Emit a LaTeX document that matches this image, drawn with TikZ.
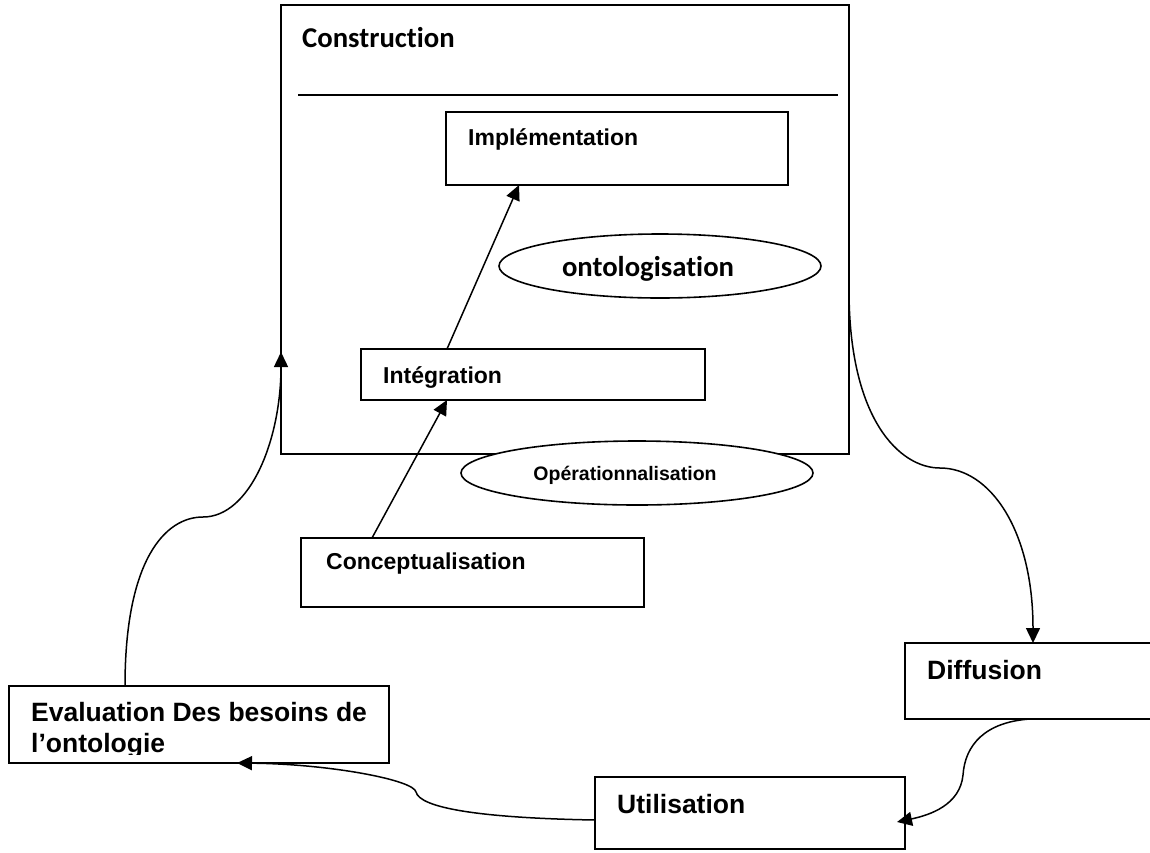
\documentclass[tikz,border=0pt]{standalone}
\usepackage{fontspec}
\setmainfont{Liberation Sans}
\newfontfamily\calib[Ligatures={NoCommon,NoDiscretionary,NoRare}]{Carlito}
\usetikzlibrary{arrows.meta,shapes.geometric,calc}
\begin{document}
\begin{tikzpicture}[x=1pt,y=-1pt,
  box/.style={draw, line width=1.6pt, rectangle, anchor=north west, inner sep=0pt, outer sep=0pt},
  oval/.style={draw, line width=1.6pt, ellipse, fill=white, inner sep=0pt, outer sep=0pt},
  lbl/.style={anchor=base west, inner sep=0pt, font=\fontsize{23}{27}\selectfont\bfseries},
  biglbl/.style={anchor=base west, inner sep=0pt, font=\fontsize{26.5}{31}\selectfont\bfseries},
  callbl/.style={inner sep=0pt, font=\calib\fontsize{28.7}{34}\selectfont\bfseries},
  smalllbl/.style={anchor=base, inner sep=0pt, font=\fontsize{19.5}{23}\selectfont\bfseries},
  con/.style={line width=1.5pt, -{Triangle[length=15pt,width=14pt]}},
  sep/.style={line width=1.6pt}
]
\useasboundingbox (0,0) rectangle (1150,852);
\fill[white] (0,0) rectangle (1150,852);

% Construction frame
\node[box, minimum width=568, minimum height=449] (cons) at (281,5) {};
\node[callbl, anchor=base west] (tcons) at (302,47) {Construction};
\coordinate (sepL) at (298,95);
\coordinate (sepR) at (838,95);
\draw[sep] (sepL) -- (sepR);

% Implementation
\node[box, minimum width=342, minimum height=73] (impl) at (446,112) {};
\node[lbl] (timpl) at (468,145) {Implémentation};

% ontologisation
\node[oval, minimum width=322, minimum height=64] (onto) at (660,266) {};
\node[callbl, anchor=base] (tonto) at (648,276) {ontologisation};

% Integration
\node[box, minimum width=344, minimum height=51] (integ) at (361,349) {};
\node[lbl] (tinteg) at (383,383) {Intégration};

% Operationnalisation
\node[oval, minimum width=352, minimum height=64] (oper) at (637,473) {};
\node[smalllbl] (toper) at (625,480) {Opérationnalisation};

% Conceptualisation
\node[box, minimum width=343, minimum height=69] (concept) at (301,538) {};
\node[lbl] (tconcept) at (326,569) {Conceptualisation};

% Diffusion
\node[box, minimum width=262, minimum height=76] (diff) at (905,643) {};
\node[biglbl] (tdiff) at (927,679) {Diffusion};

% Utilisation
\node[box, minimum width=310, minimum height=72] (util) at (595,777) {};
\node[biglbl] (tutil) at (617,813) {Utilisation};

% Evaluation
\node[box, minimum width=380, minimum height=77] (eval) at (9,686) {};
\begin{scope}
  \clip (9,686) rectangle (389,754);
  \node[biglbl] (teval1) at (31,721) {Evaluation Des besoins de};
  \node[biglbl] (teval2) at (31,752) {l’ontologie};
\end{scope}

% Connectors
\draw[con] ($(integ.north west)+(86,0)$) -- ($(impl.south west)+(73,0)$);
\draw[con] ($(concept.north west)+(71,0)$) -- ($(integ.south west)+(86,0)$);

\draw[con] ($(eval.north west)+(116,0)$)
  .. controls (125,560) and (165,517) .. (203,517)
  .. controls (250,517) and (281,440) .. ($(cons.north west)+(0,347)$);

\draw[con] ($(cons.north east)+(0,285)$)
  .. controls (849,420) and (900,468) .. (940,468)
  .. controls (990,468) and (1033,530) .. ($(diff.north west)+(128,0)$);

\draw[con] ($(diff.south west)+(125,0)$)
  .. controls (985,722) and (965,745) .. (963,775)
  .. controls (960,805) and (930,815) .. ($(util.north east)+(-8,45)$);

\draw[con] ($(util.north west)+(0,43)$)
  .. controls (480,818) and (420,808) .. (416,792)
  .. controls (414,780) and (330,764) .. ($(eval.south west)+(228,0)$);
\end{tikzpicture}
\end{document}
